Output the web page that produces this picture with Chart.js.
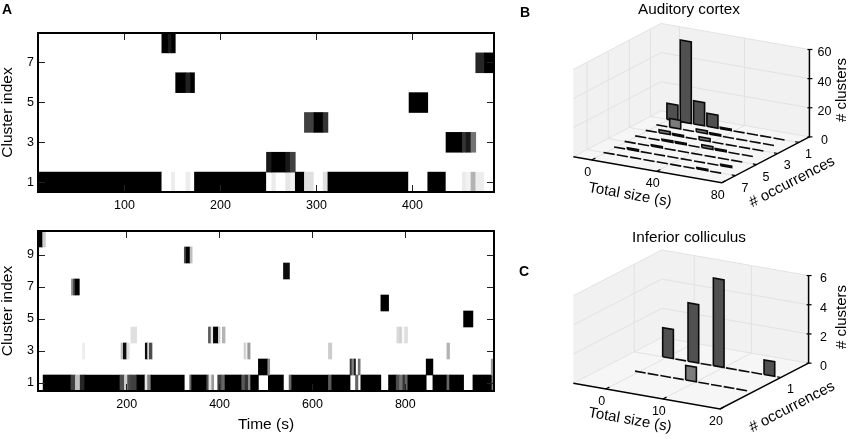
<!DOCTYPE html>
<html>
<head>
<meta charset="utf-8">
<title>Cluster index rasters</title>
<script src="https://cdn.jsdelivr.net/npm/chart.js@4"></script>
<style>
  html, body { margin: 0; padding: 0; background: #fff; }
  #page { position: relative; width: 850px; height: 439px; overflow: hidden; font-family: "Liberation Sans", Arial, sans-serif; filter: blur(0.3px); }
  canvas { position: absolute; }
  .letter { position: absolute; font-weight: bold; font-size: 14px; line-height: 14px; color: #000; }
</style>
</head>
<body>
<div id="page">
  <canvas id="rasterTop" width="520" height="215" style="left:0;top:0"></canvas>
  <canvas id="rasterBottom" width="520" height="234" style="left:0;top:205px"></canvas>
  <canvas id="histTop" width="330" height="225" style="left:520px;top:0"></canvas>
  <canvas id="histBottom" width="330" height="214" style="left:520px;top:225px"></canvas>
  <div class="letter" style="left:2px;top:2px">A</div>
  <div class="letter" style="left:520px;top:5px">B</div>
  <div class="letter" style="left:519px;top:264px">C</div>
</div>
<script>
// Panel A top: auditory cortex, each row is [start s, end s, darkness]
const cortex1 = [[10,139,1],[139,149,0],[149,153,.07],[153,164,0],[164,169,.07],[169,173,0],[173,248,1],[248,253.5,0],[253.5,258,.08],[258,268,0],[268,273,.1],[273,278,.05],[278,287.5,1],[287.5,297.5,.12],[297.5,307,0],[307,312,.12],[312,396,1],[396,416,0],[416,435,1],[435,452,0],[452,456,.08],[456,461,.05],[461,466,.3],[466,475,.07],[475,485,0]];
const cortex2 = [[248,253.5,.9],[253.5,268,1],[268,273,.9],[273,278,.75]];
const cortex3 = [[435,452,1],[452,456,.8],[456,461,.9],[461,466,.55]];
const cortex4 = [[287.5,297.5,.75],[297.5,307,1],[307,312,.8]];
const cortex5 = [[396.5,416,1]];
const cortex6 = [[153.4,164,1],[164,169,.87],[169,173,1]];
const cortex7 = [[466,475,.85],[475,485,1]];
const cortex8 = [[139,146,1],[146,149,.9],[149,153,1]];
const cortexRows = [cortex1, cortex2, cortex3, cortex4, cortex5, cortex6, cortex7, cortex8];

// Panel A bottom: inferior colliculus
const colliculus1 = [[20,80,1],[80,89.5,.75],[89.5,96.5,.25],[99.3,109.4,.85],[109.4,185.5,1],[185.5,195,.7],[195,202,.2],[202,208,.7],[208,222,.75],[222,239.4,1],[239.4,245,.1],[245,252.3,.5],[252.3,324,1],[335.6,340,.6],[340,372.3,1],[372.3,377,.7],[377,383,.1],[383,387.4,.4],[396,404.6,.75],[404.6,411.8,.6],[411.8,447.7,1],[447.7,455,.65],[455,462,.8],[462,467,.45],[467,483.6,1],[505,537.5,1],[549.7,555.5,.6],[555.5,634.5,1],[634.5,641.7,.65],[641.7,681,1],[692.7,698,.6],[704.2,747.3,1],[763.9,780.4,1],[780.4,787.6,.7],[787.6,794.8,.55],[794.8,799.8,.8],[799.8,805.5,.6],[805.5,845,1],[859.4,889.6,1],[889.6,895.3,.6],[895.3,925.5,1],[945.6,986.6,1],[986.6,991,.5]];
const colliculus2 = [[483.6,503.8,1],[503.8,508,.45],[681,685,.8],[685,690,.5],[690,692.7,.9],[698.5,702.8,.55],[845,859.4,1],[985,990,.4]];
const colliculus3 = [[105,109.4,.07],[187.7,192.7,.25],[192.7,200,.95],[200,205.6,.12],[240,245,.95],[245,248.8,.15],[248.8,254.5,.7],[452.8,457,.2],[457,460.7,.05],[460.7,465.7,.4],[634.5,641.7,.2],[889.6,895.3,.3]];
const colliculus4 = [[209,221.5,.12],[376,381.6,.65],[381.6,386.7,.1],[386.7,397.4,1],[397.4,401,.2],[406,411.8,.3],[781.8,787.6,.15],[787.6,793.3,.18],[793.3,798.4,.02],[798.4,804.8,.13]];
const colliculus5 = [[925.5,945.6,1]];
const colliculus6 = [[747.4,764,1]];
const colliculus7 = [[81,85,.45],[85,89,.7],[89,98,1]];
const colliculus8 = [[537.6,550.5,.95]];
const colliculus9 = [[324,328,.7],[328,336.5,1],[336.5,341,.25]];
const colliculus10 = [[9,19,1],[19,25,.2]];
const colliculusRows = [colliculus1, colliculus2, colliculus3, colliculus4, colliculus5, colliculus6, colliculus7, colliculus8, colliculus9, colliculus10];

const cortexTimeTicks = [100, 200, 300, 400];
const cortexIndexTicks = [1, 3, 5, 7];
const colliculusTimeTicks = [200, 400, 600, 800];
const colliculusIndexTicks = [1, 3, 5, 7, 9];

// Panel B: # clusters per total size bin, one list per # occurrences
const cortexOcc1 = [11, 56, 16, 9, 1, 0, 0, 0, 0];
const cortexOcc2 = [0, 6, 0, 2, 1, 0, 0, 0, 0];
const cortexOcc3 = [0, 2, 1, 0, 2, 0, 0, 0, 0];
const cortexOcc4 = [0, 0, 1, 1, 0, 2, 1, 0, 0];
const cortexOcc5 = [0, 0, 1, 0, 0, 0, 0, 0, 0];
const cortexOcc6 = [0, 1, 0, 0, 0, 0, 0, 0, 1];
const cortexOcc7 = [0, 0, 0, 0, 0, 0, 0, 1, 0];
const cortexHist = [cortexOcc1, cortexOcc2, cortexOcc3, cortexOcc4, cortexOcc5, cortexOcc6, cortexOcc7];

// Panel C
const colliculusOcc1 = [2, 0, 4, 0, 6, 0, 0, 0, 1];
const colliculusOcc2 = [0, 0, 0, 0, 1, 0, 0, 0, 0];
const colliculusHist = [colliculusOcc1, colliculusOcc2];

const FONT = '"Liberation Sans", Arial, sans-serif';

function gray(level) {
  const v = Math.round(255 * (1 - level));
  return `rgb(${v},${v},${v})`;
}

function frameAxis(position, min, max, size, ticks) {
  const horizontal = position === 'top' || position === 'bottom';
  return {
    type: 'linear',
    position,
    min,
    max,
    offset: false,
    afterBuildTicks: s => { s.ticks = (ticks || []).map(value => ({ value })); },
    afterFit: s => { if (horizontal) s.height = size; else s.width = size; },
    border: { display: true, color: '#000', width: 2, z: 1 },
    grid: { drawOnChartArea: false, drawTicks: true, tickLength: -7, tickColor: '#222', tickWidth: 1, offset: false, z: 1 },
    ticks: { display: false }
  };
}

function makeRaster(id, rows, xMin, xMax, timeTicks, indexTicks, margins, withTime) {
  const points = [];
  const colors = [];
  rows.forEach((row, i) => {
    row.forEach(([start, end, level]) => {
      points.push({ x: [start, end], y: i + 1 });
      colors.push(gray(level));
    });
  });

  const x = frameAxis('bottom', xMin, xMax, margins.bottom, timeTicks);
  x.ticks = { display: true, maxRotation: 0, autoSkip: false, padding: 13, color: '#000', font: { family: FONT, size: 12.5 } };
  if (withTime) {
    x.title = { display: true, text: 'Time (s)', color: '#000', padding: { top: 0, bottom: 7 }, font: { family: FONT, size: 15.5, lineHeight: 1 } };
  }
  const y = frameAxis('left', .5, rows.length + .5, margins.left, indexTicks);
  y.ticks = { display: true, autoSkip: false, padding: 11, color: '#000', font: { family: FONT, size: 12.5 } };
  y.title = { display: true, text: 'Cluster index', color: '#000', padding: 0, font: { family: FONT, size: 15.5, lineHeight: 1 } };

  new Chart(document.getElementById(id), {
    type: 'bar',
    data: {
      datasets: [{
        data: points,
        backgroundColor: colors,
        borderWidth: 0,
        barPercentage: 1,
        categoryPercentage: 1,
        grouped: false
      }]
    },
    options: {
      indexAxis: 'y',
      responsive: false,
      animation: false,
      events: [],
      layout: { padding: 0 },
      plugins: { legend: { display: false }, tooltip: { enabled: false } },
      scales: {
        x,
        y,
        x2: frameAxis('top', xMin, xMax, margins.top, timeTicks),
        y2: frameAxis('right', .5, rows.length + .5, margins.right, indexTicks)
      }
    }
  });
}

makeRaster('rasterTop', cortexRows, 10, 485, cortexTimeTicks, cortexIndexTicks, { left: 38, right: 26, top: 33, bottom: 23 }, false);
makeRaster('rasterBottom', colliculusRows, 9, 991, colliculusTimeTicks, colliculusIndexTicks, { left: 38, right: 26, top: 26, bottom: 48 }, true);

// text drawn in hidden-axis units, so it follows the same scales as the marks
const textPlugin = {
  id: 'panelText',
  afterDraw(chart, args, opts) {
    const { ctx, scales } = chart;
    opts.items.forEach(t => {
      ctx.save();
      ctx.translate(scales.x.getPixelForValue(t.x), scales.y.getPixelForValue(t.y));
      ctx.rotate((t.rotate || 0) * Math.PI / 180);
      ctx.font = `${t.size}px ${FONT}`;
      ctx.fillStyle = '#000';
      ctx.textAlign = 'center';
      ctx.textBaseline = 'middle';
      ctx.fillText(t.text, 0, 0);
      ctx.restore();
    });
  }
};

function makeHist(id, w, h, hist, view) {
  // oblique projection of (size, occurrences, clusters) to the flat hidden axes
  const project = (s, o, c) => ({
    x: view.origin[0] + s * view.sizeVec[0] + (view.occFront - o) * view.occVec[0],
    y: view.origin[1] + s * view.sizeVec[1] + (view.occFront - o) * view.occVec[1] - c * view.countPx
  });
  const { sizeMin, sizeMax, occFront, countMax } = view;
  const occBack = 0;
  const sets = [];
  const poly = (pts, fill, stroke, width) => sets.push({
    data: pts.concat([pts[0]]), fill: 'shape', backgroundColor: fill,
    borderColor: stroke, borderWidth: width, pointRadius: 0, tension: 0, clip: false,
    borderJoinStyle: 'miter'
  });
  const line = (pts, color, width) => sets.push({
    data: pts, fill: false, borderColor: color, borderWidth: width, pointRadius: 0, tension: 0, clip: false
  });

  // walls and floor
  poly([project(sizeMin, occFront, 0), project(sizeMin, occBack, 0), project(sizeMin, occBack, countMax), project(sizeMin, occFront, countMax)], '#f1f1f1', 'transparent', 0);
  poly([project(sizeMin, occBack, 0), project(sizeMax, occBack, 0), project(sizeMax, occBack, countMax), project(sizeMin, occBack, countMax)], '#f1f1f1', 'transparent', 0);
  poly([project(sizeMin, occFront, 0), project(sizeMax, occFront, 0), project(sizeMax, occBack, 0), project(sizeMin, occBack, 0)], '#f6f6f6', 'transparent', 0);

  // grid
  const gridColor = '#e2e2e2';
  view.sizeTicks.forEach(s => line([project(s, occFront, 0), project(s, occBack, 0), project(s, occBack, countMax)], gridColor, 1));
  view.occTicks.forEach(o => line([project(sizeMax, o, 0), project(sizeMin, o, 0), project(sizeMin, o, countMax)], gridColor, 1));
  view.countTicks.forEach(c => line([project(sizeMin, occFront, c), project(sizeMin, occBack, c), project(sizeMax, occBack, c)], gridColor, 1));

  // bars, back row first
  hist.forEach((row, r) => {
    const occ = r + 1;
    row.forEach((count, b) => {
      const s0 = view.binLeft + b * view.binStep;
      const s1 = s0 + view.binWidth;
      poly([project(s0, occ, 0), project(s1, occ, 0), project(s1, occ, count), project(s0, occ, count)],
        occ === 1 ? '#505050' : '#7c7c7c', '#0a0a0a', 1.6);
    });
  });

  // axis lines and ticks
  line([project(sizeMin, occFront, 0), project(sizeMax, occFront, 0), project(sizeMax, occBack, 0), project(sizeMax, occBack, countMax)], '#000', 1.5);
  const sizeTick = (sizeMax - sizeMin) * .025;
  view.sizeTicks.forEach(s => line([project(s, occFront, 0), project(s, occFront - sizeTick * view.sizeVec[0] / view.occVec[0], 0)], '#000', 1.2));
  view.occTicks.forEach(o => line([project(sizeMax, o, 0), project(sizeMax - sizeTick, o, 0)], '#000', 1.2));
  view.countTicks.forEach(c => {
    const p = project(sizeMax, occBack, c);
    line([{ x: p.x - 2, y: p.y }, { x: p.x + 3, y: p.y }], '#000', 1.2);
  });

  // labels
  const items = [{ text: view.title, x: view.titleAt[0], y: view.titleAt[1], size: 15.3 }];
  view.sizeTicks.forEach(s => {
    const p = project(s, occFront, 0);
    items.push({ text: String(s), x: p.x - 4, y: p.y + 12.5, size: 12.5 });
  });
  view.occTicks.forEach(o => {
    const p = project(sizeMax, o, 0);
    items.push({ text: String(o), x: p.x + 9.5, y: p.y + 12.5, size: 12.5 });
  });
  view.countTicks.forEach(c => {
    const p = project(sizeMax, occBack, c);
    items.push({ text: String(c), x: p.x + 15, y: p.y + 3.5, size: 12.5 });
  });
  items.push({ text: 'Total size (s)', x: view.sizeLabelAt[0], y: view.sizeLabelAt[1], size: 15, rotate: 10 });
  items.push({ text: '# occurrences', x: view.occLabelAt[0], y: view.occLabelAt[1], size: 15, rotate: -27.5 });
  items.push({ text: '# clusters', x: view.countLabelAt[0], y: view.countLabelAt[1], size: 15, rotate: -90 });

  new Chart(document.getElementById(id), {
    type: 'line',
    data: { datasets: sets.reverse() }, // first dataset paints last in Chart.js
    options: {
      responsive: false,
      animation: false,
      events: [],
      layout: { padding: 0 },
      plugins: { legend: { display: false }, tooltip: { enabled: false }, panelText: { items } },
      scales: {
        x: { type: 'linear', display: false, min: 0, max: w },
        y: { type: 'linear', display: false, min: 0, max: h, reverse: true }
      }
    },
    plugins: [textPlugin]
  });
}

makeHist('histTop', 330, 225, cortexHist, {
  origin: [71.7, 160], sizeVec: [1.625, .285], occVec: [10.57, -5.53], countPx: 1.457,
  sizeMin: -11.3, sizeMax: 80, occFront: 8.3, countMax: 60,
  binLeft: -1.2, binStep: 8.2, binWidth: 6.8,
  sizeTicks: [0, 40, 80], occTicks: [1, 3, 5, 7], countTicks: [0, 20, 40, 60],
  title: 'Auditory cortex', titleAt: [169, 9.5],
  sizeLabelAt: [110, 195], occLabelAt: [272, 182], countLabelAt: [322, 90]
});

makeHist('histBottom', 330, 214, colliculusHist, {
  origin: [85.7, 164], sizeVec: [5.717, 1], occVec: [27.67, -14.33], countPx: 14.6,
  sizeMin: -5.66, sizeMax: 20, occFront: 3.2, countMax: 6,
  binLeft: -.68, binStep: 2.216, binWidth: 1.87,
  sizeTicks: [0, 10, 20], occTicks: [1], countTicks: [0, 2, 4, 6],
  title: 'Inferior colliculus', titleAt: [169, 12.5],
  sizeLabelAt: [110, 195], occLabelAt: [272, 182], countLabelAt: [322, 92]
});
</script>
</body>
</html>
